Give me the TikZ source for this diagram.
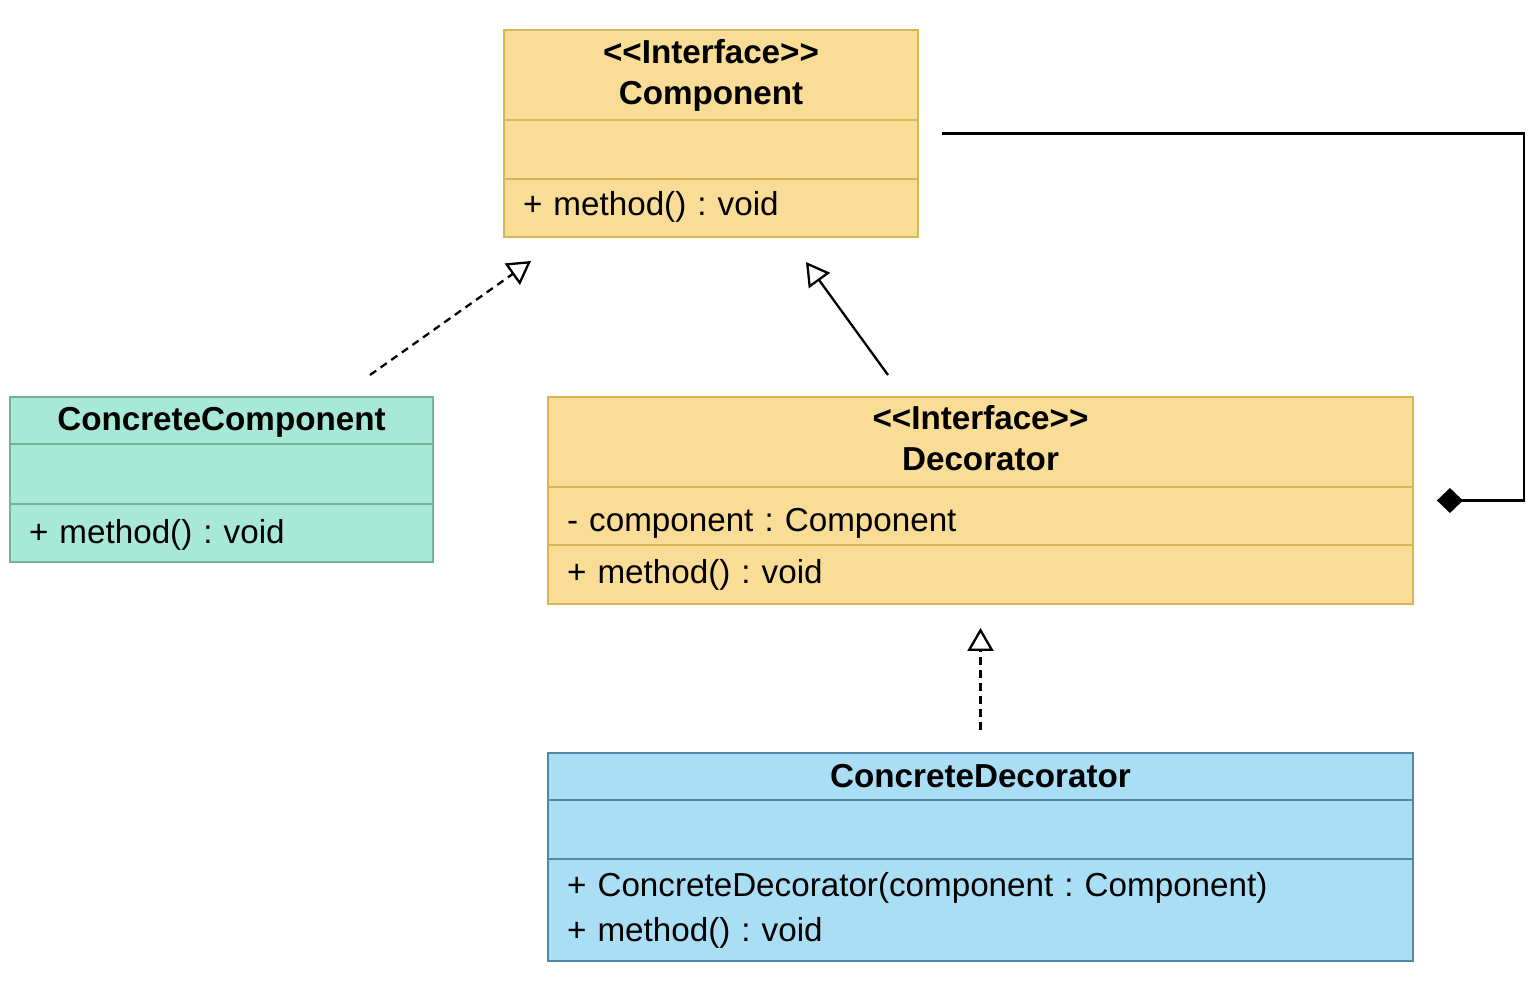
\documentclass[tikz,border=0pt]{standalone}
\usepackage{fontspec}
\setmainfont{Liberation Sans}
\usetikzlibrary{positioning, arrows.meta, calc}

\definecolor{ifacefill}{RGB}{249,220,150}
\definecolor{ifaceline}{RGB}{214,182,86}
\definecolor{compfill}{RGB}{168,232,214}
\definecolor{compline}{RGB}{118,176,150}
\definecolor{decofill}{RGB}{169,222,245}
\definecolor{decoline}{RGB}{80,136,168}
\frenchspacing

\begin{document}
\begin{tikzpicture}[x=0.02cm, y=-0.02cm, font=\fontsize{18.9}{23.3}\selectfont]
		\tikzstyle{head} = [rectangle, outer sep=0pt, inner sep=0pt, line width=1.4pt, align=center, font=\fontsize{18.9}{23.3}\selectfont\bfseries]
		
		\tikzstyle{part} = [rectangle, outer sep=0pt, inner xsep=0.38cm, inner ysep=0pt, line width=1.4pt, align=left]
		
		\tikzstyle{iface} = [draw=ifaceline, fill=ifacefill]
		\tikzstyle{concrete} = [draw=compline, fill=compfill]
		\tikzstyle{deco} = [draw=decoline, fill=decofill]
		
		\tikzstyle{realize} = [line width=1.3pt, dash pattern=on 0.15cm off 0.11cm, -{Triangle[open, length=0.46cm, width=0.52cm]}]
		\tikzstyle{inherit} = [line width=1.3pt, -{Triangle[open, length=0.46cm, width=0.52cm]}]
		\tikzstyle{compose} = [line width=1.3pt, -{Diamond[length=0.52cm, width=0.5cm]}]
		%-------------------------------------------------------
		\useasboundingbox (0,0) rectangle (1534,988);
		
		% Component interface
		\node (comp) [head, iface, minimum width=8.28cm, minimum height=1.8cm] at (711,75) {{<}{<}Interface{>}{>}\\Component};
		\node (comp-attr) [part, iface, below=0pt of comp, text width=7.52cm, minimum height=1.18cm] {};
		\node (comp-meth) [part, iface, below=0pt of comp-attr, text width=7.52cm, minimum height=1.16cm] {\raisebox{0.02cm}[\height][\depth]{+ method() : void}};
		
		% ConcreteComponent
		\node (cc) [head, concrete, minimum width=8.46cm, minimum height=0.94cm] at (221.5,420.5) {\raisebox{-0.04cm}[\height][\depth]{ConcreteComponent}};
		\node (cc-attr) [part, concrete, below=0pt of cc, text width=7.7cm, minimum height=1.2cm] {};
		\node (cc-meth) [part, concrete, below=0pt of cc-attr, text width=7.7cm, minimum height=1.16cm] {\raisebox{-0.03cm}[\height][\depth]{+ method() : void}};
		
		% Decorator interface
		\node (dec) [head, iface, minimum width=17.3cm, minimum height=1.8cm] at (980.5,442) {\begin{tabular}{@{}c@{}}{<}{<}Interface{>}{>}\\Decorator\end{tabular}};
		\node (dec-attr) [part, iface, below=0pt of dec, text width=16.54cm, minimum height=1.16cm] {\raisebox{-0.14cm}[\height][\depth]{- component : Component}};
		\node (dec-meth) [part, iface, below=0pt of dec-attr, text width=16.54cm, minimum height=1.18cm] {+ method() : void};
		
		% ConcreteDecorator
		\node (cd) [head, deco, minimum width=17.3cm, minimum height=0.94cm, below=2.98cm of dec-meth] {ConcreteDecorator};
		\node (cd-attr) [part, deco, below=0pt of cd, text width=16.54cm, minimum height=1.18cm] {};
		\node (cd-meth) [part, deco, below=0pt of cd-attr, text width=16.54cm, minimum height=2.04cm, font=\fontsize{18.9}{25.6}\selectfont] {+ ConcreteDecorator(component : Component)\\+ method() : void};
		
		% free ends of the connectors
		\coordinate (cc-tail) at ([shift={(148.5,-22)}]cc.north);
		\coordinate (comp-tip1) at ([shift={(27,24)}]comp-meth.south west);
		\coordinate (dec-tail) at ([shift={(-92.5,-22)}]dec.north);
		\coordinate (comp-tip2) at ([shift={(-112,25)}]comp-meth.south east);
		\coordinate (cd-tail) at ([shift={(0,-23)}]cd.north);
		\coordinate (dec-tip) at ([shift={(0,24)}]dec-meth.south);
		\coordinate (comp-out) at ($(comp.north east)!0.5!(comp-meth.south east)+(24,0)$);
		\coordinate (dec-in) at ($(dec.north east)!0.5!(dec-meth.south east)+(24,0)$);
		
		\draw [realize] (cc-tail) -- (comp-tip1);
		\draw [inherit] (dec-tail) -- (comp-tip2);
		\draw [realize] (cd-tail) -- (dec-tip);
		\draw [compose] (comp-out) -- ++(582,0) |- (dec-in);
\end{tikzpicture}
\end{document}
